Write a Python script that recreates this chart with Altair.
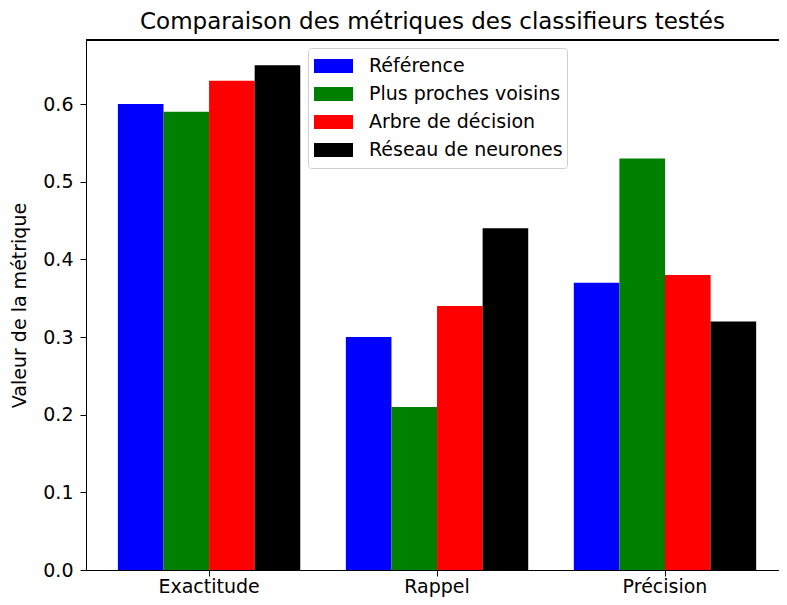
import altair as alt
import pandas as pd

metrics = ["Exactitude", "Rappel", "Précision"]
series = ["Référence", "Plus proches voisins", "Arbre de décision", "Réseau de neurones"]
colors = ["#0000ff", "#008000", "#ff0000", "#000000"]
ref_vals = [0.60, 0.30, 0.37]
knn_vals = [0.59, 0.21, 0.53]
tree_vals = [0.63, 0.34, 0.38]
nn_vals = [0.65, 0.44, 0.32]
y_ticks = [0.0, 0.1, 0.2, 0.3, 0.4, 0.5, 0.6]

rows = []
for s, vals in zip(series, [ref_vals, knn_vals, tree_vals, nn_vals]):
    for m, v in zip(metrics, vals):
        rows.append({"metric": m, "series": s, "value": v})
df = pd.DataFrame(rows)

FONT = "DejaVu Sans"
W, H = 693, 530
FS = 19

bars = alt.Chart(df).mark_bar(size=45.6).encode(
    x=alt.X("metric:N", sort=metrics, title=None,
            scale=alt.Scale(paddingInner=0.2, paddingOuter=0.12, align=0.583),
            axis=alt.Axis(labelAngle=0, labelFontSize=FS, labelFont=FONT, labelColor="black",
                          tickSize=6, tickColor="black", domainColor="black",
                          labelPadding=1, grid=False)),
    xOffset=alt.XOffset("series:N", sort=series,
                        scale=alt.Scale(paddingInner=0, paddingOuter=0)),
    y=alt.Y("value:Q", title="Valeur de la métrique",
            scale=alt.Scale(domain=[0, 0.6825], nice=False, zero=True),
            axis=alt.Axis(values=y_ticks, format=".1f", labelFontSize=FS, labelFont=FONT,
                          labelColor="black", tickSize=6, tickColor="black",
                          domainColor="black", labelPadding=7, grid=False,
                          titleFontSize=FS, titleFont=FONT, titleFontWeight="normal",
                          titleColor="black", titlePadding=13)),
    color=alt.Color("series:N", sort=series,
                    scale=alt.Scale(domain=series, range=colors),
                    legend=alt.Legend(title=None, orient="none", legendX=222, legendY=8,
                                      labelFontSize=FS, labelFont=FONT, labelColor="black",
                                      labelLimit=400,
                                      labelExpr="datum.label + '\u00a0\u00a0\u00a0'",
                                      symbolType="M-1,-0.36H1V0.36H-1Z", symbolSize=1521,
                                      symbolStrokeWidth=0, symbolOffset=2, labelOffset=16,
                                      padding=4, rowPadding=0, clipHeight=28,
                                      fillColor="white", strokeColor="#d0d0d0",
                                      cornerRadius=3)),
)

top_rule = alt.Chart(df).mark_rule(color="black", strokeWidth=1).encode(
    x=alt.value(0), x2=alt.value(W + 5), y=alt.value(0)
)

chart = alt.layer(bars, top_rule).properties(
    width=W, height=H,
    title=alt.TitleParams("Comparaison des métriques des classifieurs testés",
                          font=FONT, fontSize=23, fontWeight="normal", color="black",
                          offset=6),
    autosize=alt.AutoSizeParams(type="none"),
    padding={"left": 78, "top": 32, "right": 0, "bottom": 27},
).configure_view(stroke=None).configure_axis(domainWidth=1, tickWidth=1)

chart.save("out.html", embed_options={"renderer": "svg", "actions": False})
